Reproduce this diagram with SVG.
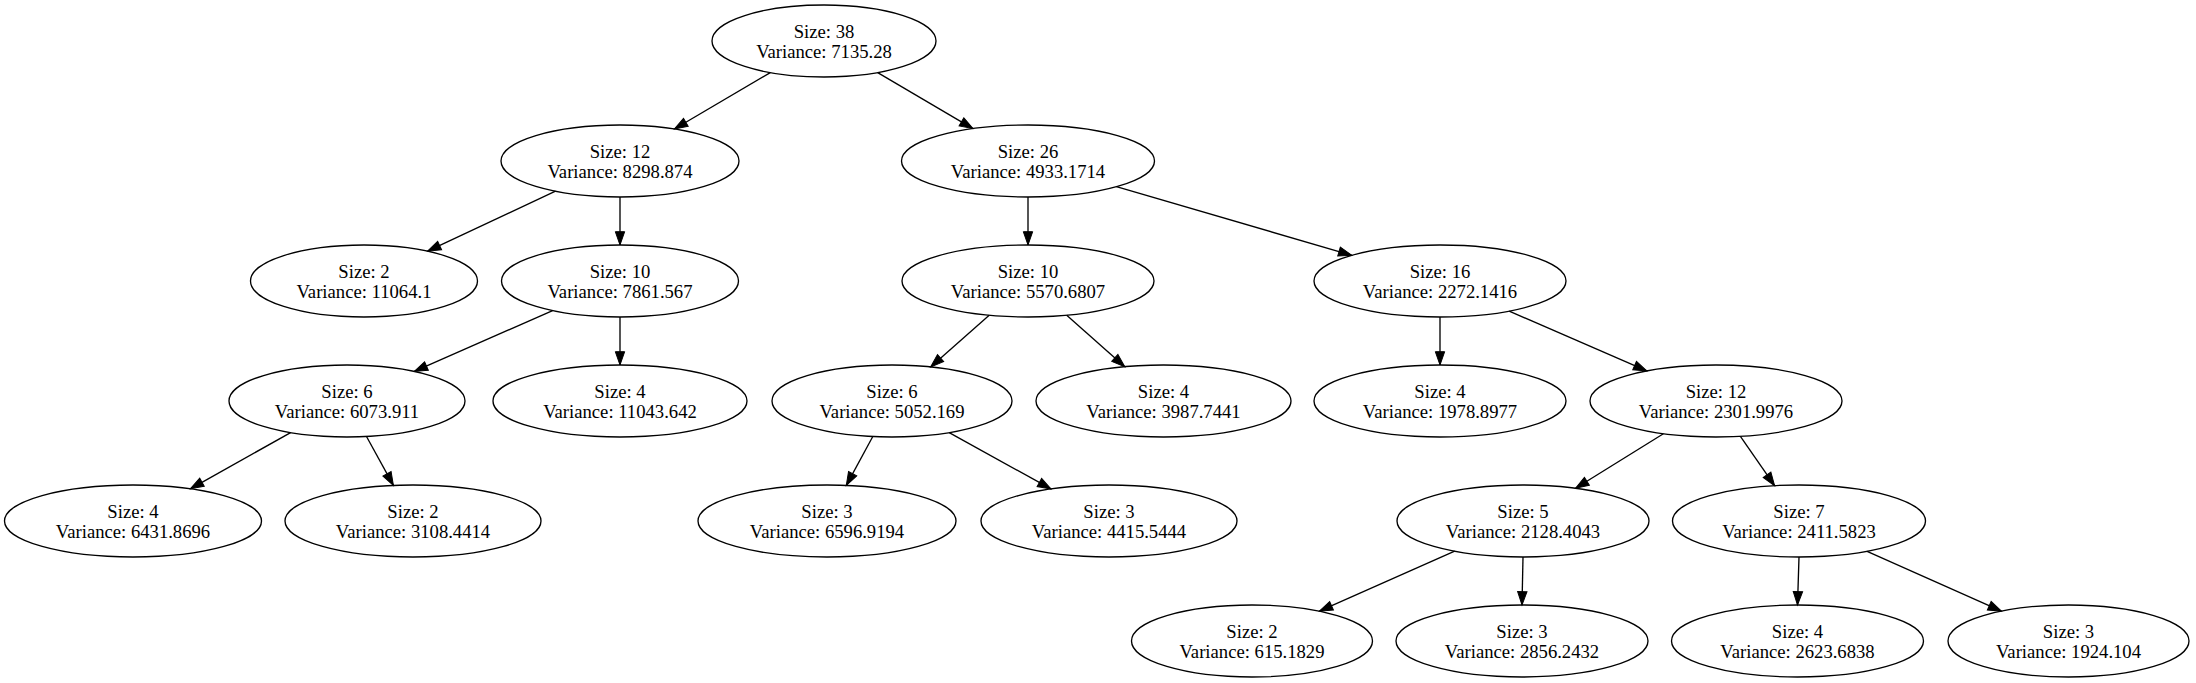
<svg xmlns="http://www.w3.org/2000/svg" width="2196" height="683" viewBox="0 0 2196 683">
<style>
.node ellipse{fill:none;stroke:#000;stroke-width:1.33}
.node text{font-family:"Liberation Serif","Times New Roman",serif;font-size:18.67px;fill:#000;text-anchor:middle}
.edges line{stroke:#000;stroke-width:1.33;fill:none}
</style>
<defs>
<marker id="arr" markerUnits="userSpaceOnUse" markerWidth="14" markerHeight="10" refX="13.3" refY="4.67" orient="auto" overflow="visible">
<path d="M0,0 L13.3,4.67 L0,9.33 z" fill="#000" stroke="#000" stroke-width="1"/>
</marker>
</defs>
<rect width="2196" height="683" fill="#fff"/>
<g class="edges" marker-end="url(#arr)">
<line x1="770.3" y1="72.6" x2="674.4" y2="129.0" marker-end="url(#arr)"/>
<line x1="877.7" y1="72.6" x2="972.9" y2="128.6" marker-end="url(#arr)"/>
<line x1="555.5" y1="191.2" x2="427.6" y2="251.2" marker-end="url(#arr)"/>
<line x1="620" y1="197" x2="620" y2="245" marker-end="url(#arr)"/>
<line x1="1028" y1="197" x2="1028" y2="245" marker-end="url(#arr)"/>
<line x1="1116.4" y1="186.7" x2="1351.8" y2="255.3" marker-end="url(#arr)"/>
<line x1="552.6" y1="310.6" x2="414.3" y2="371.4" marker-end="url(#arr)"/>
<line x1="620" y1="317" x2="620" y2="365" marker-end="url(#arr)"/>
<line x1="989.2" y1="315.2" x2="930.6" y2="366.9" marker-end="url(#arr)"/>
<line x1="1066.7" y1="315.3" x2="1124.8" y2="366.7" marker-end="url(#arr)"/>
<line x1="1440" y1="317" x2="1440" y2="365" marker-end="url(#arr)"/>
<line x1="1509.2" y1="311.1" x2="1646.8" y2="370.9" marker-end="url(#arr)"/>
<line x1="290.6" y1="432.6" x2="190.4" y2="488.8" marker-end="url(#arr)"/>
<line x1="366.5" y1="436.5" x2="393.4" y2="485.4" marker-end="url(#arr)"/>
<line x1="872.8" y1="436.5" x2="846.3" y2="485.4" marker-end="url(#arr)"/>
<line x1="949.2" y1="432.6" x2="1051.0" y2="488.9" marker-end="url(#arr)"/>
<line x1="1663.4" y1="433.7" x2="1575.6" y2="488.3" marker-end="url(#arr)"/>
<line x1="1740.4" y1="436.3" x2="1774.6" y2="485.7" marker-end="url(#arr)"/>
<line x1="1454.7" y1="551.2" x2="1319.4" y2="611.2" marker-end="url(#arr)"/>
<line x1="1523" y1="557" x2="1522" y2="605" marker-end="url(#arr)"/>
<line x1="1799" y1="557" x2="1797.5" y2="605" marker-end="url(#arr)"/>
<line x1="1867.1" y1="551.3" x2="2001.4" y2="611.1" marker-end="url(#arr)"/>
</g>
<g id="n0" class="node"><ellipse cx="824" cy="41" rx="112" ry="36"/><text x="824" y="38">Size: 38</text><text x="824" y="58">Variance: 7135.28</text></g>
<g id="n1" class="node"><ellipse cx="620" cy="161" rx="119" ry="36"/><text x="620" y="158">Size: 12</text><text x="620" y="178">Variance: 8298.874</text></g>
<g id="n2" class="node"><ellipse cx="1028" cy="161" rx="126.5" ry="36"/><text x="1028" y="158">Size: 26</text><text x="1028" y="178">Variance: 4933.1714</text></g>
<g id="n3" class="node"><ellipse cx="364" cy="281" rx="113.5" ry="36"/><text x="364" y="278">Size: 2</text><text x="364" y="298">Variance: 11064.1</text></g>
<g id="n4" class="node"><ellipse cx="620" cy="281" rx="118.5" ry="36"/><text x="620" y="278">Size: 10</text><text x="620" y="298">Variance: 7861.567</text></g>
<g id="n5" class="node"><ellipse cx="1028" cy="281" rx="126" ry="36"/><text x="1028" y="278">Size: 10</text><text x="1028" y="298">Variance: 5570.6807</text></g>
<g id="n6" class="node"><ellipse cx="1440" cy="281" rx="126" ry="36"/><text x="1440" y="278">Size: 16</text><text x="1440" y="298">Variance: 2272.1416</text></g>
<g id="n7" class="node"><ellipse cx="347" cy="401" rx="118" ry="36"/><text x="347" y="398">Size: 6</text><text x="347" y="418">Variance: 6073.911</text></g>
<g id="n8" class="node"><ellipse cx="620" cy="401" rx="127" ry="36"/><text x="620" y="398">Size: 4</text><text x="620" y="418">Variance: 11043.642</text></g>
<g id="n9" class="node"><ellipse cx="892" cy="401" rx="120" ry="36"/><text x="892" y="398">Size: 6</text><text x="892" y="418">Variance: 5052.169</text></g>
<g id="n10" class="node"><ellipse cx="1163.5" cy="401" rx="127.5" ry="36"/><text x="1163.5" y="398">Size: 4</text><text x="1163.5" y="418">Variance: 3987.7441</text></g>
<g id="n11" class="node"><ellipse cx="1440" cy="401" rx="126" ry="36"/><text x="1440" y="398">Size: 4</text><text x="1440" y="418">Variance: 1978.8977</text></g>
<g id="n12" class="node"><ellipse cx="1716" cy="401" rx="126" ry="36"/><text x="1716" y="398">Size: 12</text><text x="1716" y="418">Variance: 2301.9976</text></g>
<g id="n13" class="node"><ellipse cx="133" cy="521" rx="128.5" ry="36"/><text x="133" y="518">Size: 4</text><text x="133" y="538">Variance: 6431.8696</text></g>
<g id="n14" class="node"><ellipse cx="413" cy="521" rx="128" ry="36"/><text x="413" y="518">Size: 2</text><text x="413" y="538">Variance: 3108.4414</text></g>
<g id="n15" class="node"><ellipse cx="827" cy="521" rx="129" ry="36"/><text x="827" y="518">Size: 3</text><text x="827" y="538">Variance: 6596.9194</text></g>
<g id="n16" class="node"><ellipse cx="1109" cy="521" rx="128" ry="36"/><text x="1109" y="518">Size: 3</text><text x="1109" y="538">Variance: 4415.5444</text></g>
<g id="n17" class="node"><ellipse cx="1523" cy="521" rx="126" ry="36"/><text x="1523" y="518">Size: 5</text><text x="1523" y="538">Variance: 2128.4043</text></g>
<g id="n18" class="node"><ellipse cx="1799" cy="521" rx="126.5" ry="36"/><text x="1799" y="518">Size: 7</text><text x="1799" y="538">Variance: 2411.5823</text></g>
<g id="n19" class="node"><ellipse cx="1252" cy="641" rx="120.5" ry="36"/><text x="1252" y="638">Size: 2</text><text x="1252" y="658">Variance: 615.1829</text></g>
<g id="n20" class="node"><ellipse cx="1522" cy="641" rx="126" ry="36"/><text x="1522" y="638">Size: 3</text><text x="1522" y="658">Variance: 2856.2432</text></g>
<g id="n21" class="node"><ellipse cx="1797.5" cy="641" rx="126" ry="36"/><text x="1797.5" y="638">Size: 4</text><text x="1797.5" y="658">Variance: 2623.6838</text></g>
<g id="n22" class="node"><ellipse cx="2068.5" cy="641" rx="120.5" ry="36"/><text x="2068.5" y="638">Size: 3</text><text x="2068.5" y="658">Variance: 1924.104</text></g>
</svg>
